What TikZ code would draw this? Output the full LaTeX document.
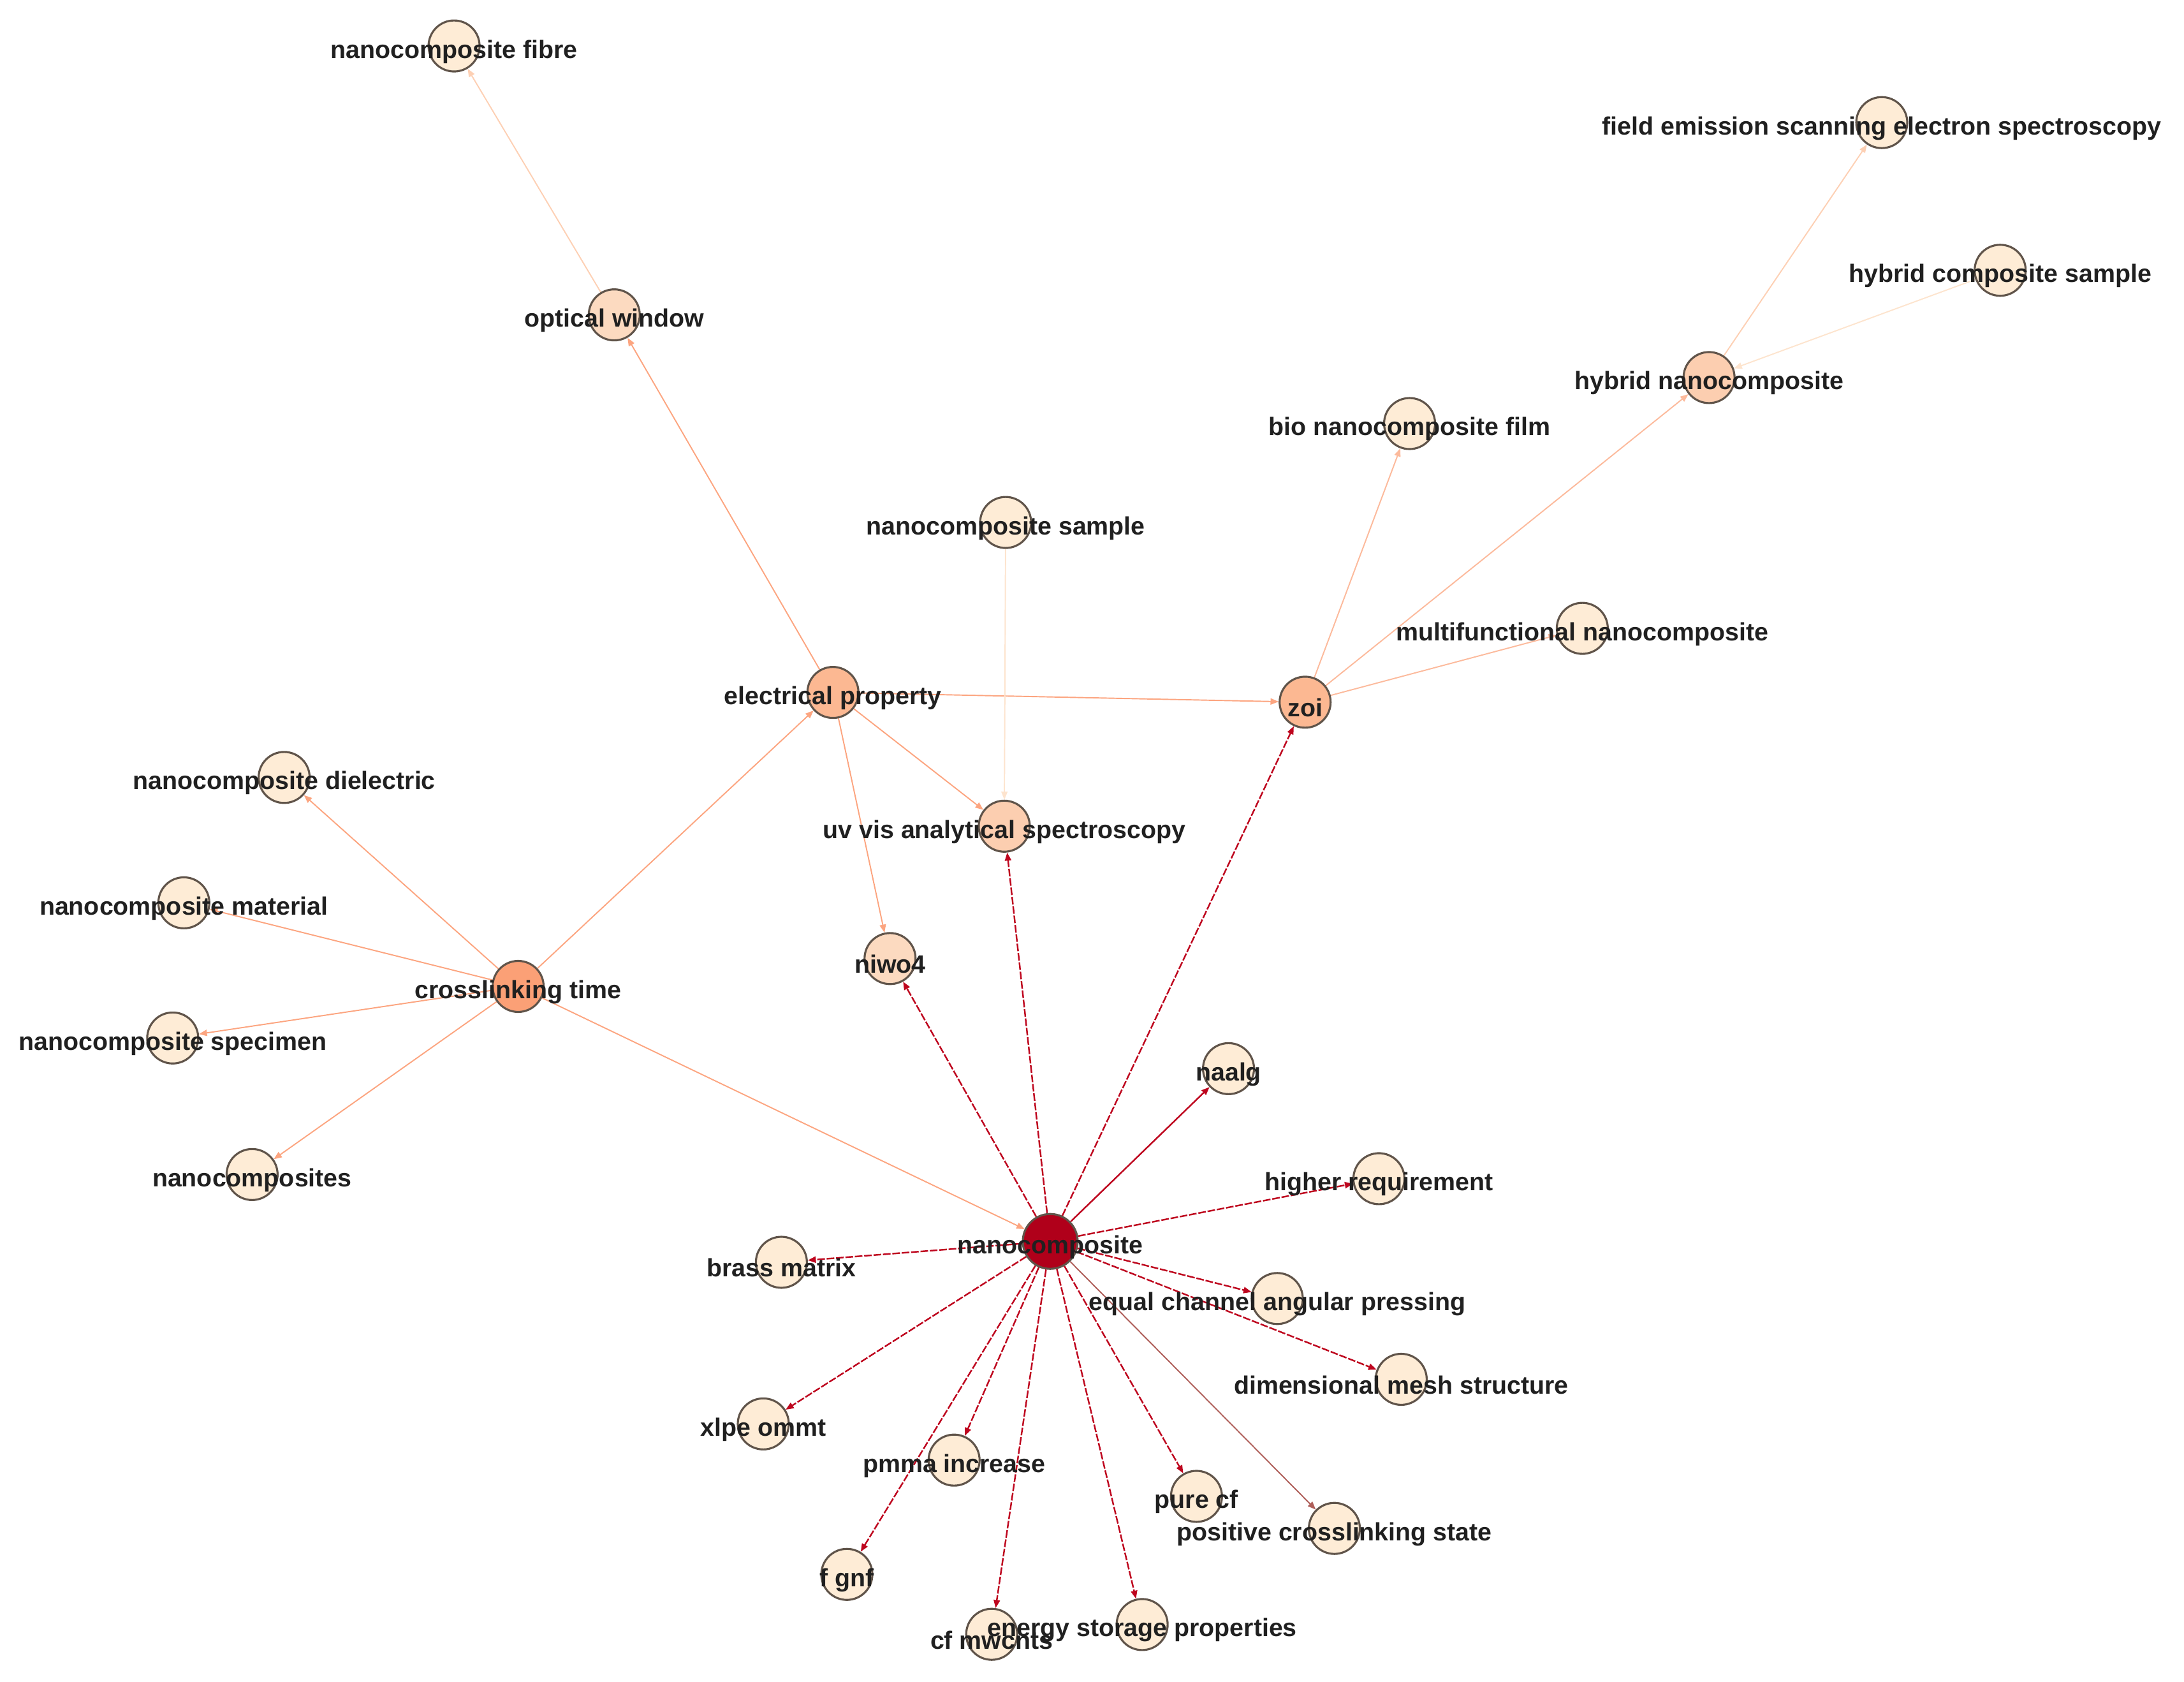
\documentclass[tikz,border=0pt]{standalone}
\usepackage{fontspec}
\setmainfont{Liberation Sans}
\usepackage{xcolor}
\usepackage{tikz}
\usetikzlibrary{arrows.meta,backgrounds}
\definecolor{leaf}{RGB}{254, 236, 214}
\definecolor{pale}{RGB}{252, 218, 192}
\definecolor{mid}{RGB}{252, 206, 176}
\definecolor{hub}{RGB}{252, 184, 146}
\definecolor{hot}{RGB}{251, 160, 118}
\definecolor{core}{RGB}{176, 0, 26}
\definecolor{rim}{RGB}{96, 84, 74}
\definecolor{ink}{RGB}{32, 32, 32}
\definecolor{salmon}{RGB}{252, 165, 128}
\definecolor{peach}{RGB}{252, 186, 156}
\definecolor{apricot}{RGB}{253, 208, 180}
\definecolor{cream}{RGB}{253, 228, 206}
\definecolor{crimson}{RGB}{190, 5, 30}
\definecolor{rust}{RGB}{175, 95, 90}

\begin{document}
\begin{tikzpicture}[
  x=0.021843cm, y=-0.021843cm,
  term/.style  = {circle, draw=rim, line width=0.9pt, fill=#1,
                  minimum size=0.8cm, inner sep=0pt},
  term/.default = leaf,
  lbl/.style   = {font=\fontsize{11.2}{13}\selectfont\bfseries, text=ink,
                  inner sep=0pt, yshift=-2.5pt},
  arrow/.style = {-{Triangle[length=3.6pt,width=2.8pt]}, line width=0.55pt},
  redarrow/.style = {arrow, color=crimson, line width=0.7pt,
                     dash pattern=on 3.4pt off 0.8pt}
]
  \useasboundingbox (0,0) rectangle (1568,1207);

  % ---- Hubs ----
  \node[term=hub,  label={[lbl]center:electrical property}] at (598, 497) (elec)  {};
  \node[term=hub,  label={[lbl]center:zoi}]                 at (937, 504) (zoi)   {};
  \node[term=hot,  label={[lbl]center:crosslinking time}]   at (372, 708) (xlink) {};
  \node[term=core, minimum size=0.86cm,
        label={[lbl]center:nanocomposite}]                  at (754, 891) (nano)  {};

  % ---- Second level ----
  \node[term=pale, label={[lbl]center:optical window}]                 at (441, 226)  (optic)  {};
  \node[term=mid,  label={[lbl]center:uv vis analytical spectroscopy}] at (721, 593)  (uvvis)  {};
  \node[term=pale, label={[lbl]center:niwo4}]                          at (639, 688)  (niwo)   {};
  \node[term=mid,  label={[lbl]center:hybrid nanocomposite}]           at (1227, 271) (hybrid) {};

  % ---- Leaves, upper half ----
  \node[term, label={[lbl]center:nanocomposite fibre}]                           at (326, 33)   (fibre)    {};
  \node[term, label={[lbl]center:field emission scanning electron spectroscopy}] at (1351, 88)  (fesem)    {};
  \node[term, label={[lbl]center:hybrid composite sample}]                       at (1436, 194) (hsample)  {};
  \node[term, label={[lbl]center:bio nanocomposite film}]                        at (1012, 304) (biofilm)  {};
  \node[term, label={[lbl]center:nanocomposite sample}]                          at (722, 375)  (nsample)  {};
  \node[term, label={[lbl]center:multifunctional nanocomposite}]                 at (1136, 451) (multi)    {};
  \node[term, label={[lbl]center:nanocomposite dielectric}]                      at (204, 558)  (dielec)   {};
  \node[term, label={[lbl]center:nanocomposite material}]                        at (132, 648)  (material) {};
  \node[term, label={[lbl]center:nanocomposite specimen}]                        at (124, 745)  (specimen) {};
  \node[term, label={[lbl]center:nanocomposites}]                                at (181, 843)  (plural)   {};

  % ---- Leaves round nanocomposite ----
  \node[term, label={[lbl]center:naalg}]                          at (882, 767)  (naalg)  {};
  \node[term, label={[lbl]center:higher requirement}]             at (990, 846)  (higher) {};
  \node[term, label={[lbl]center:brass matrix}]                   at (561, 906)  (brass)  {};
  \node[term, label={[lbl]center:equal channel angular pressing}] at (917, 932)  (ecap)   {};
  \node[term, label={[lbl]center:dimensional mesh structure}]     at (1006, 990) (mesh)   {};
  \node[term, label={[lbl]center:xlpe ommt}]                      at (548, 1022) (xlpe)   {};
  \node[term, label={[lbl]center:pmma increase}]                  at (685, 1048) (pmma)   {};
  \node[term, label={[lbl]center:pure cf}]                        at (859, 1074) (purecf) {};
  \node[term, label={[lbl]center:positive crosslinking state}]    at (958, 1097) (posx)   {};
  \node[term, label={[lbl]center:f gnf}]                          at (608, 1130) (fgnf)   {};
  \node[term, label={[lbl]center:cf mwcnts}]                      at (712, 1173) (mwcnt)  {};
  \node[term, label={[lbl]center:energy storage properties}]      at (820, 1166) (energy) {};

  \begin{scope}[on background layer]
    % ---- crosslinking time ----
    \draw[arrow, salmon] (xlink) -- (elec);
    \draw[arrow, salmon] (xlink) -- (dielec);
    \draw[arrow, salmon] (xlink) -- (material);
    \draw[arrow, salmon] (xlink) -- (specimen);
    \draw[arrow, salmon] (xlink) -- (plural);
    \draw[arrow, salmon] (xlink) -- (nano);

    % ---- electrical property ----
    \draw[arrow, salmon] (elec) -- (optic);
    \draw[arrow, salmon] (elec) -- (zoi);
    \draw[arrow, salmon] (elec) -- (uvvis);
    \draw[arrow, salmon] (elec) -- (niwo);
    \draw[arrow, apricot] (optic) -- (fibre);
    \draw[arrow, cream] (nsample) -- (uvvis);

    % ---- zoi ----
    \draw[arrow, peach] (zoi) -- (biofilm);
    \draw[arrow, peach] (zoi) -- (hybrid);
    \draw[arrow, peach] (zoi) -- (multi);
    \draw[arrow, apricot] (hybrid) -- (fesem);
    \draw[arrow, cream] (hsample) -- (hybrid);

    % ---- nanocomposite ----
    \foreach \t in {zoi, uvvis, niwo, higher, brass, ecap, mesh,
                    xlpe, pmma, purecf, fgnf, mwcnt, energy}
      \draw[redarrow] (nano) -- (\t);
    \draw[arrow, crimson, line width=0.7pt] (nano) -- (naalg);
    \draw[arrow, rust] (nano) -- (posx);
  \end{scope}
\end{tikzpicture}
\end{document}
